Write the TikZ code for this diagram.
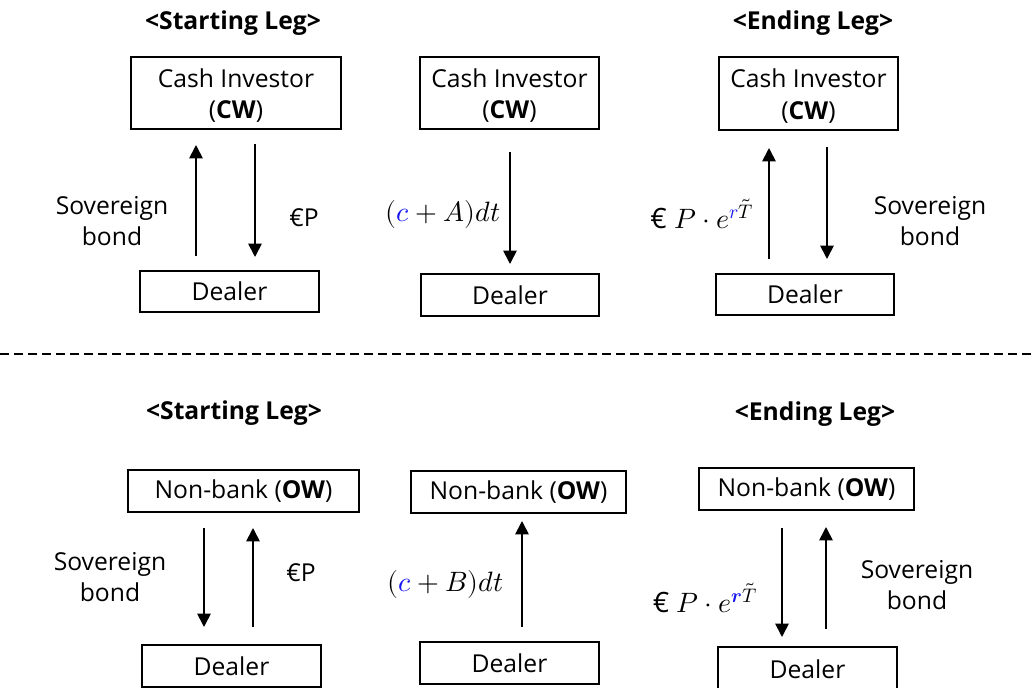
\documentclass[tikz,border=0pt]{standalone}
\usepackage{fontspec}
\usepackage{unicode-math}
\setmainfont{Open Sans}
\setmathfont{Latin Modern Math}
\usetikzlibrary{arrows.meta}
\definecolor{mblue}{RGB}{20,20,240}
\tikzset{
  box/.style={draw=black, line width=0.8pt, inner sep=0pt, align=center,
    font=\fontsize{18.5}{23.5}\selectfont},
  txt/.style={font=\fontsize{18.5}{23.5}\selectfont, align=center, inner sep=0pt},
  mth/.style={font=\fontsize{21}{23}\selectfont, inner sep=0pt},
  ttl/.style={font=\fontsize{18.5}{23}\selectfont\bfseries, inner sep=0pt},
  arr/.style={line width=1.3pt, -{Triangle[length=10pt,width=10pt]}},
}
\newcommand{\lowr}[1]{\raisebox{-2pt}[\height][\depth]{#1}}
\newcommand{\ctwo}{\lowr{Cash Investor}\\\lowr{(\textbf{CW})}}
\newcommand{\nbk}{Non-bank (\textbf{OW})}
\begin{document}
\begin{tikzpicture}[x=0.75pt,y=-0.75pt]
\useasboundingbox (0,0) rectangle (1036,688);
% ---------- top row ----------
\node[ttl] (t1) at (233,23) {<Starting Leg>};
\node[ttl] (t2) at (813,23) {<Ending Leg>};
% left
\node[box, minimum width=210*0.75pt, minimum height=72*0.75pt] (c1) at (236,93) {\ctwo};
\node[box, minimum width=179*0.75pt, minimum height=41*0.75pt] (d1) at (229.5,291.5) {Dealer};
\coordinate (a1s) at (196,256); \coordinate (a1e) at (196,145);
\coordinate (a2s) at (255,144); \coordinate (a2e) at (255,257);
\draw[arr] (a1s) -- (a1e);
\draw[arr] (a2s) -- (a2e);
\node[txt] (l1) at (112,221) {Sovereign\\bond};
\node[txt] (l2) at (304,218) {€P};
% middle
\node[box, minimum width=179*0.75pt, minimum height=72*0.75pt] (c2) at (509.5,93) {\ctwo};
\node[box, minimum width=178*0.75pt, minimum height=42*0.75pt] (d2) at (510,295) {Dealer};
\coordinate (a3s) at (510,152); \coordinate (a3e) at (510,264);
\draw[arr] (a3s) -- (a3e);
\node[mth] (l3) at (443,215) {$(\textcolor{mblue}{c}+A)dt$};
% right
\node[box, minimum width=179*0.75pt, minimum height=73*0.75pt] (c3) at (808.5,93.5) {\ctwo};
\node[box, minimum width=178*0.75pt, minimum height=41*0.75pt] (d3) at (805,294.5) {Dealer};
\coordinate (a4s) at (769,259); \coordinate (a4e) at (769,148);
\coordinate (a5s) at (827,147); \coordinate (a5e) at (827,259);
\draw[arr] (a4s) -- (a4e);
\draw[arr] (a5s) -- (a5e);
\node[mth] (l4) at (702,214) {€ $P\cdot e^{\textcolor{mblue}{r}\tilde{T}}$};
\node[txt] (l5) at (930,221) {Sovereign\\bond};
% ---------- separator ----------
\coordinate (sepL) at (0,354); \coordinate (sepR) at (1036,354);
\draw[line width=1.5pt, dash pattern=on 6.75pt off 3.75pt] (sepL) -- (sepR);
% ---------- bottom row ----------
\node[ttl] (t3) at (234,413) {<Starting Leg>};
\node[ttl] (t4) at (815,414) {<Ending Leg>};
% left
\node[box, minimum width=231*0.75pt, minimum height=42*0.75pt] (n1) at (243.5,491) {\nbk};
\node[box, minimum width=179*0.75pt, minimum height=42*0.75pt] (e1) at (231.5,666) {Dealer};
\coordinate (b1s) at (204,528); \coordinate (b1e) at (204,627);
\coordinate (b2s) at (253,627); \coordinate (b2e) at (253,528);
\draw[arr] (b1s) -- (b1e);
\draw[arr] (b2s) -- (b2e);
\node[txt] (m1) at (110,577) {Sovereign\\bond};
\node[txt] (m2) at (301,573) {€P};
% middle
\node[box, minimum width=215*0.75pt, minimum height=42*0.75pt] (n2) at (518.5,492) {\nbk};
\node[box, minimum width=179*0.75pt, minimum height=42*0.75pt] (e2) at (509.5,663) {Dealer};
\coordinate (b3s) at (522,627); \coordinate (b3e) at (522,521);
\draw[arr] (b3s) -- (b3e);
\node[mth] (m3) at (446,584) {$(\textcolor{mblue}{c}+B)dt$};
% right
\node[box, minimum width=215*0.75pt, minimum height=42*0.75pt] (n3) at (806.5,489) {\nbk};
\node[box, minimum width=179*0.75pt, minimum height=44*0.75pt] (e3) at (807.5,669) {Dealer};
\coordinate (b4s) at (782,528); \coordinate (b4e) at (782,637);
\coordinate (b5s) at (826,629); \coordinate (b5e) at (826,527);
\draw[arr] (b4s) -- (b4e);
\draw[arr] (b5s) -- (b5e);
\node[mth] (m4) at (705,598) {€ $P\cdot e^{\textcolor{mblue}{\symbfit{r}}\tilde{T}}$};
\node[txt] (m5) at (917,585) {Sovereign\\bond};
\end{tikzpicture}
\end{document}
